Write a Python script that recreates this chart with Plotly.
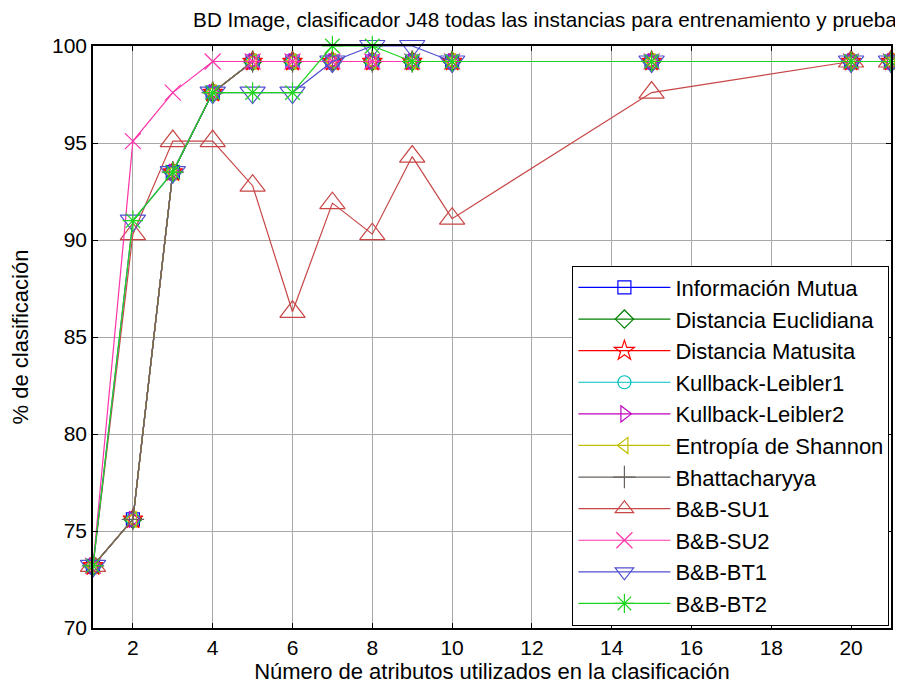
import plotly.graph_objects as go

num_atributos = [1, 2, 3, 4, 5, 6, 7, 8, 9, 10, 15, 20, 21]

informacion_mutua   = [73.2, 75.6, 93.5, 97.6, 99.2, 99.2, 99.2, 99.2, 99.2, 99.2, 99.2, 99.2, 99.2]
distancia_euclidiana = [73.2, 75.6, 93.5, 97.6, 99.2, 99.2, 99.2, 99.2, 99.2, 99.2, 99.2, 99.2, 99.2]
distancia_matusita  = [73.2, 75.6, 93.5, 97.6, 99.2, 99.2, 99.2, 99.2, 99.2, 99.2, 99.2, 99.2, 99.2]
kullback_leibler1   = [73.2, 75.6, 93.5, 97.6, 99.2, 99.2, 99.2, 99.2, 99.2, 99.2, 99.2, 99.2, 99.2]
kullback_leibler2   = [73.2, 75.6, 93.5, 97.6, 99.2, 99.2, 99.2, 99.2, 99.2, 99.2, 99.2, 99.2, 99.2]
entropia_shannon    = [73.2, 75.6, 93.5, 97.6, 99.2, 99.2, 99.2, 99.2, 99.2, 99.2, 99.2, 99.2, 99.2]
bhattacharyya       = [73.2, 75.6, 93.5, 97.6, 99.2, 99.2, 99.2, 99.2, 99.2, 99.2, 99.2, 99.2, 99.2]
bb_su1 = [73.2, 90.3, 95.1, 95.1, 92.8, 86.3, 91.9, 90.3, 94.3, 91.1, 97.6, 99.2, 99.2]
bb_su2 = [73.2, 95.1, 97.6, 99.2, 99.2, 99.2, 99.2, 99.2, 99.2, 99.2, 99.2, 99.2, 99.2]
bb_bt1 = [73.2, 91.0, 93.5, 97.6, 97.6, 97.6, 99.2, 100.0, 100.0, 99.2, 99.2, 99.2, 99.2]
bb_bt2 = [73.2, 91.0, 93.5, 97.6, 97.6, 97.6, 100.0, 100.0, 99.2, 99.2, 99.2, 99.2, 99.2]

x_ticks = [2, 4, 6, 8, 10, 12, 14, 16, 18, 20]
y_ticks = [70, 75, 80, 85, 90, 95, 100]

series = [
    ("Información Mutua", informacion_mutua, "#0000ff", "square-open", 13),
    ("Distancia Euclidiana", distancia_euclidiana, "#008000", "diamond-open", 14),
    ("Distancia Matusita", distancia_matusita, "#ff0000", "star-open", 15),
    ("Kullback-Leibler1", kullback_leibler1, "#00bfbf", "circle-open", 13),
    ("Kullback-Leibler2", kullback_leibler2, "#bf00bf", "triangle-right-open", 14),
    ("Entropía de Shannon", entropia_shannon, "#bfbf00", "triangle-left-open", 14),
    ("Bhattacharyya", bhattacharyya, "#6a625c", "cross-thin-open", 16),
    ("B&B-SU1", bb_su1, "#c84646", "triangle-up-open", 22),
    ("B&B-SU2", bb_su2, "#ff33aa", "x-thin-open", 16),
    ("B&B-BT1", bb_bt1, "#5050d0", "triangle-down-open", 22),
    ("B&B-BT2", bb_bt2, "#1ed41e", "asterisk-open", 17),
]

fig = go.Figure()
for name, vals, color, sym, size in series:
    fig.add_trace(go.Scatter(
        x=num_atributos, y=vals, name=name, mode="lines+markers",
        line=dict(color=color, width=1.2),
        marker=dict(symbol=sym, size=size, color=color, line=dict(color=color, width=1.2)),
        cliponaxis=False,
    ))

# The page body adds an 8px offset, so the figure is 8px smaller in each direction.
W, H = 895, 677
font_family = "Liberation Sans, Arial, sans-serif"
fig.update_layout(
    width=W, height=H,
    margin=dict(l=85, r=12, t=38, b=57, autoexpand=False),
    paper_bgcolor="white", plot_bgcolor="white",
    font=dict(family=font_family, color="black", size=21),
    title=dict(
        text="BD Image, clasificador J48 todas las instancias para entrenamiento y prueba",
        x=537 / W, xref="container", xanchor="center",
        y=1 - 12 / H, yref="container", yanchor="middle",
        font=dict(size=20.7, family=font_family, color="black"),
        automargin=False,
    ),
    xaxis=dict(
        range=[1, 21], tickvals=x_ticks, ticktext=[str(v) for v in x_ticks],
        showgrid=True, gridcolor="#a8a8a8", gridwidth=1.2,
        showline=True, linecolor="black", linewidth=1.5, mirror="ticks",
        ticks="inside", ticklen=5, tickcolor="black",
        zeroline=False, automargin=False,
        title=dict(text="Número de atributos utilizados en la clasificación",
                   font=dict(size=22), standoff=6),
        tickfont=dict(size=21),
    ),
    yaxis=dict(
        range=[70, 100], tickvals=y_ticks, ticktext=[str(v) for v in y_ticks],
        showgrid=True, gridcolor="#a8a8a8", gridwidth=1.2,
        showline=True, linecolor="black", linewidth=1.5, mirror="ticks",
        ticks="inside", ticklen=5, tickcolor="black",
        zeroline=False, automargin=False,
        title=dict(text="% de clasificación", font=dict(size=22), standoff=19),
        tickfont=dict(size=21),
    ),
    legend=dict(
        x=0.998, y=0.004, xanchor="right", yanchor="bottom",
        bgcolor="white", bordercolor="black", borderwidth=1,
        font=dict(size=22, family=font_family, color="black"),
        itemwidth=92, traceorder="normal",
    ),
    showlegend=True,
)

fig.write_html("out.html")
